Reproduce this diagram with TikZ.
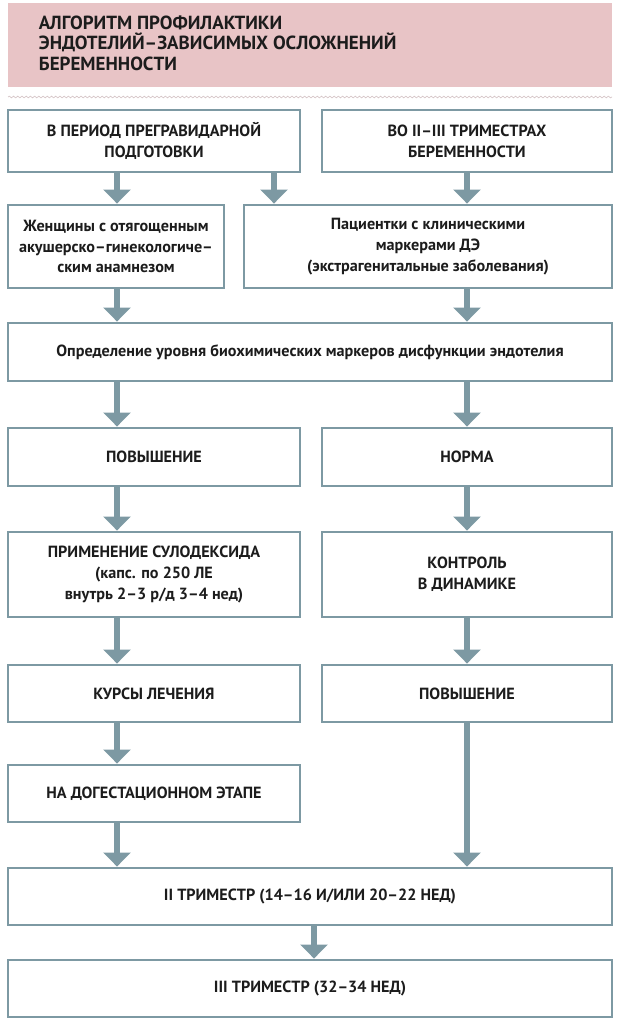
\documentclass[tikz,border=0pt]{standalone}
\usepackage{fontspec}
\setmainfont{PT Sans}
\usepackage{tikz}
\usetikzlibrary{
	arrows.meta,
	calc,
	positioning,
	decorations.pathmorphing
}
\definecolor{BoxGray}{RGB}{125,153,163}
\definecolor{TitlePink}{RGB}{232,196,198}
\definecolor{WaveGray}{RGB}{214,198,200}
\definecolor{TextDark}{RGB}{28,28,28}

\begin{document}
\begin{tikzpicture}[x=0.025cm, y=-0.025cm,
	box/.style={draw=BoxGray, line width=2pt, fill=white, align=center, inner sep=2pt,
		text=TextDark, font=\bfseries\fontsize{11.5}{14.8}\selectfont},
	arr/.style={draw=BoxGray, line width=4.5pt, -{Triangle[width=19pt,length=10pt]}}]
		\useasboundingbox (0,0) rectangle (628,1024);
		% header
		\fill[TitlePink] (8,3) rectangle (612,87);
		\node[anchor=west, align=left, text=TextDark, font=\bfseries\fontsize{13.5}{14.6}\selectfont]
			(ttl) at (34,43) {АЛГОРИТМ ПРОФИЛАКТИКИ\\ЭНДОТЕЛИЙ–ЗАВИСИМЫХ ОСЛОЖНЕНИЙ\\БЕРЕМЕННОСТИ};
		\draw[WaveGray, line width=0.5pt, decorate, decoration={snake, amplitude=0.6pt, segment length=3pt}]
			(8,97) -- (612,97);
		% columns
		\coordinate (lx) at (117,0);
		\coordinate (mx) at (274,0);
		\coordinate (rx) at (467,0);
		\coordinate (cx) at (314,0);
		% boxes
		\node[box, minimum width=7.3cm, minimum height=1.55cm] (b1) at (154,141)
			{В ПЕРИОД ПРЕГРАВИДАРНОЙ\\ПОДГОТОВКИ};
		\node[box, minimum width=7.25cm, minimum height=1.55cm] (b2) at (467,141)
			{ВО II–III ТРИМЕСТРАХ\\БЕРЕМЕННОСТИ};
		\node[box, minimum width=5.4cm, minimum height=2.075cm] (b3) at (116,246.5)
			{Женщины с отягощенным\\акушерско–гинекологиче–\\ским анамнезом};
		\node[box, minimum width=9.2cm, minimum height=2.075cm] (b4) at (428,246.5)
			{Пациентки с клиническими\\маркерами ДЭ\\(экстрагенитальные заболевания)};
		\node[box, minimum width=15.1cm, minimum height=1.45cm] (b5) at (310,352)
			{Определение уровня биохимических маркеров дисфункции эндотелия};
		\node[box, minimum width=7.3cm, minimum height=1.45cm] (b6) at (154,457) {ПОВЫШЕНИЕ};
		\node[box, minimum width=7.25cm, minimum height=1.45cm] (b7) at (467,457) {НОРМА};
		\node[box, minimum width=7.3cm, minimum height=2.125cm] (b8) at (154,574.5)
			{ПРИМЕНЕНИЕ СУЛОДЕКСИДА\\(капс. по 250 ЛЕ\\внутрь 2–3 р/д 3–4 нед)};
		\node[box, minimum width=7.25cm, minimum height=2.125cm] (b9) at (467,574.5)
			{КОНТРОЛЬ\\В ДИНАМИКЕ};
		\node[box, minimum width=7.3cm, minimum height=1.425cm] (b10) at (154,693.5) {КУРСЫ ЛЕЧЕНИЯ};
		\node[box, minimum width=7.25cm, minimum height=1.425cm] (b11) at (467,693.5) {ПОВЫШЕНИЕ};
		\node[box, minimum width=7.3cm, minimum height=1.425cm] (b12) at (154,793.5) {НА ДОГЕСТАЦИОННОМ ЭТАПЕ};
		\node[box, minimum width=15.1cm, minimum height=1.425cm] (b13) at (310,896.5)
			{II ТРИМЕСТР (14–16 И/ИЛИ 20–22 НЕД)};
		\node[box, minimum width=15.1cm, minimum height=1.425cm] (b14) at (310,988.5)
			{III ТРИМЕСТР (32–34 НЕД)};
		% arrows
		\foreach \a/\b/\c in {b1/b3/lx, b1/b4/mx, b2/b4/rx, b3/b5/lx, b4/b5/rx, b5/b6/lx, b5/b7/rx,
			b6/b8/lx, b7/b9/rx, b8/b10/lx, b9/b11/rx, b10/b12/lx, b12/b13/lx, b11/b13/rx, b13/b14/cx}
		\draw[arr] (\a.south -| \c) -- (\b.north -| \c);
	\end{tikzpicture}
\end{document}
